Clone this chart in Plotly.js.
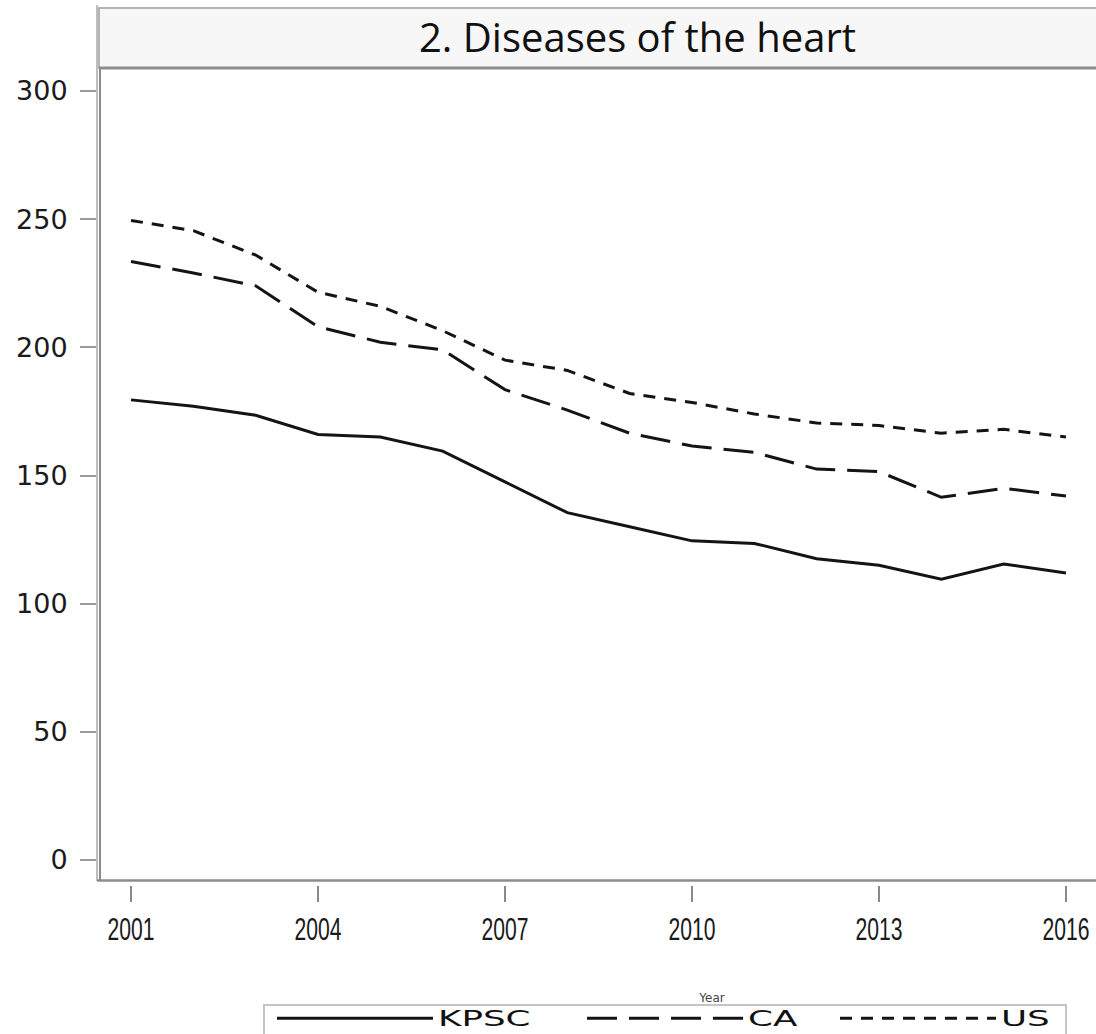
<!DOCTYPE html>
<html>
<head>
<meta charset="utf-8">
<script src="https://cdn.plot.ly/plotly-3.0.1.min.js"></script>
<style>
  html, body { margin: 0; padding: 0; background: #fff; overflow: hidden; }
  #wrap { width: 1096px; height: 1034px; overflow: hidden; position: relative; }
  #chart { width: 1324px; height: 1100px; }
  .legendtext { transform-box: fill-box; transform-origin: 0 50%; transform: scaleX(1.7); }
</style>
</head>
<body>
<div id="wrap"><div id="chart"></div></div>
<script>
// ---- data ----
const years = [2001, 2002, 2003, 2004, 2005, 2006, 2007, 2008, 2009, 2010, 2011, 2012, 2013, 2014, 2015, 2016];
const kpsc = [179.5, 177, 173.5, 166, 165, 159.5, 147.5, 135.5, 130, 124.5, 123.5, 117.5, 115, 109.5, 115.5, 112];
const ca   = [233.5, 229, 224, 208, 202, 199, 183.5, 175.5, 166.5, 161.5, 159, 152.5, 151.5, 141.5, 145, 142];
const us   = [249.5, 245.5, 236, 221.5, 216, 206.5, 195, 191, 182, 178.5, 174, 170.5, 169.5, 166.5, 168, 165];
const xTicks = [2001, 2004, 2007, 2010, 2013, 2016];
const yTicks = [0, 50, 100, 150, 200, 250, 300];
const seriesNames = ['KPSC', 'CA', 'US'];
const chartTitle = '2. Diseases of the heart';
const xTitle = 'Year';

// ---- geometry helpers (pixel -> paper) ----
const W = 1324, H = 1100;
const mL = 97, mR = 0, mT = 68, mB = H - 885;
const pw = W - mL - mR, ph = H - mT - mB;
const px = X => (X - mL) / pw;
const py = Y => (H - mB - Y) / ph;

const lineCol = '#141414';
const traces = [
  {x: years, y: kpsc, name: seriesNames[0], mode: 'lines', legendwidth: 139, line: {color: lineCol, width: 3, dash: 'solid'}},
  {x: years, y: ca,   name: seriesNames[1], mode: 'lines', legendwidth: 82,  line: {color: lineCol, width: 3, dash: '30px,12px'}},
  {x: years, y: us,   name: seriesNames[2], mode: 'lines', legendwidth: 58,  line: {color: lineCol, width: 3, dash: '12px,9px'}}
];

const layout = {
  width: W, height: H,
  margin: {l: mL, r: mR, t: mT, b: mB, pad: 0},
  paper_bgcolor: '#fff', plot_bgcolor: '#fff',
  showlegend: true,
  title: {
    text: chartTitle,
    font: {family: 'Open Sans, sans-serif', size: 40, color: '#111'},
    xref: 'container', x: 637.5 / W, xanchor: 'center',
    yref: 'container', y: 1 - 38 / H, yanchor: 'middle'
  },
  xaxis: {
    domain: [px(100), 1],
    range: [2000.5027, 2020.139],
    anchor: 'free', position: 0,
    tickmode: 'array', tickvals: xTicks, ticktext: xTicks.map(String),
    ticks: 'outside', ticklen: 16, tickwidth: 2, tickcolor: '#8a8a8a',
    ticklabelstandoff: 0,
    showline: false, showgrid: false, zeroline: false,
    tickfont: {family: 'Liberation Sans, Arial, sans-serif', size: 32, color: '#1a1a1a'},
    title: {text: xTitle, font: {family: 'DejaVu Sans, sans-serif', size: 12, color: '#444'}, standoff: 47}
  },
  yaxis: {
    domain: [py(880), 1],
    range: [-7.8, 308.97],
    anchor: 'free', position: 0,
    tickmode: 'array', tickvals: yTicks, ticktext: yTicks.map(String),
    ticks: 'outside', ticklen: 17, tickwidth: 2, tickcolor: '#9a9a9a',
    ticklabelstandoff: 7,
    showline: false, showgrid: false, zeroline: false,
    tickfont: {family: 'DejaVu Sans, sans-serif', size: 27, color: '#1a1a1a'}
  },
  legend: {
    orientation: 'h',
    x: px(272), xanchor: 'left',
    y: py(998), yanchor: 'top',
    bgcolor: 'rgba(0,0,0,0)', borderwidth: 0,
    font: {family: 'DejaVu Sans, sans-serif', size: 21, color: '#111'},
    itemwidth: 156
  },
  shapes: [
    // title box
    {type: 'rect', xref: 'paper', yref: 'paper', x0: px(99), x1: px(1330), y0: py(68), y1: py(8),
     fillcolor: '#f7f7f7', line: {color: '#b4b4b4', width: 2}, layer: 'below'},
    // title box bottom / frame top
    {type: 'line', xref: 'paper', yref: 'paper', x0: px(99), x1: px(1330), y0: py(68), y1: py(68),
     line: {color: '#8c8c8c', width: 3}},
    // outer light axis line
    {type: 'line', xref: 'paper', yref: 'paper', x0: px(97), x1: px(97), y0: py(5), y1: py(881),
     line: {color: '#bdbdbd', width: 2}},
    // frame left
    {type: 'line', xref: 'paper', yref: 'paper', x0: px(100), x1: px(100), y0: py(68), y1: py(881),
     line: {color: '#8c8c8c', width: 2}},
    // frame bottom
    {type: 'line', xref: 'paper', yref: 'paper', x0: px(97), x1: px(1330), y0: py(880.5), y1: py(880.5),
     line: {color: '#8c8c8c', width: 2.5}},
    // legend box
    {type: 'rect', xref: 'paper', yref: 'paper', x0: px(264), x1: px(1066), y0: py(1045), y1: py(1005),
     fillcolor: '#ffffff', line: {color: '#c4c4c4', width: 2}, layer: 'below'}
  ]
};

Plotly.newPlot('chart', traces, layout, {displayModeBar: false, staticPlot: true}).then(function () {
  // condensed look of the year labels
  document.querySelectorAll('#chart .xtick text').forEach(function (t) {
    t.setAttribute('textLength', '47');
    t.setAttribute('lengthAdjust', 'spacingAndGlyphs');
  });
});
</script>
</body>
</html>
